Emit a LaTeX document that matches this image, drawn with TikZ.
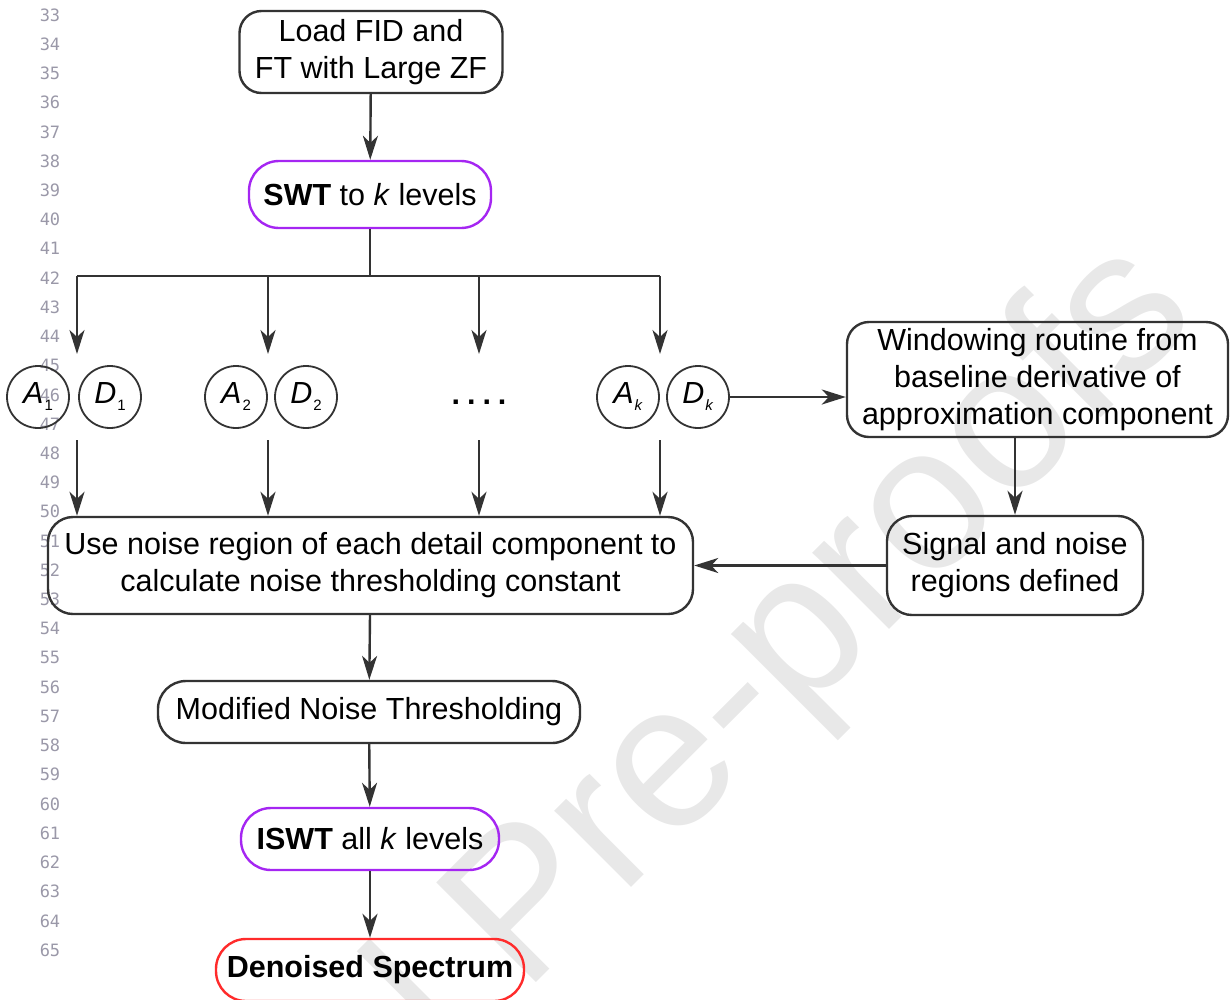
\documentclass[tikz,border=0pt]{standalone}
\usepackage{fontspec}
\setmainfont{Liberation Sans}
\newfontfamily\linenofont{DejaVu Sans Mono}
\usepackage{tikz}
\usetikzlibrary{arrows.meta,calc,positioning}
\definecolor{boxline}{HTML}{333333}
\definecolor{swtpurple}{HTML}{A526F2}
\definecolor{outred}{HTML}{FF2B2B}
\definecolor{linenogray}{HTML}{9A98A8}
\newcommand\flowfont{\fontsize{30.5}{37}\selectfont}
\newcommand\comp[2]{\textit{#1}\kern1pt\raisebox{-7pt}{\fontsize{15}{15}\selectfont #2}}

\begin{document}
\begin{tikzpicture}[x=1pt,y=-1pt,
    procbox/.style={draw=boxline, line width=2.4pt, rounded corners=22pt, align=center, inner sep=0pt, font=\flowfont},
    keybox/.style={procbox, draw=swtpurple, rounded corners=30pt},
    endbox/.style={procbox, draw=outred, rounded corners=30pt},
    circnode/.style={circle, draw=boxline, line width=1.8pt, minimum size=62pt, inner sep=0pt, font=\flowfont},
    arr/.style={draw=boxline, line width=2.4pt, -{Stealth[length=24pt,width=15pt,inset=7pt]}},
    lineno/.style={font=\linenofont\fontsize{17}{17}\selectfont, text=linenogray},
    wmark/.style={font=\fontsize{205}{205}\selectfont, text=black!9}]
    \useasboundingbox (0,0) rectangle (1231,999);
    \clip (0,0) rectangle (1231,999);
    % watermark and line numbers
    \node [wmark, rotate=45] (wm) at (568,876) {Journal Pre-proofs};
    \foreach \n in {33,...,65}
        \node [lineno] (ln\n) at (50,{15+(\n-33)*29.22}) {\n};

    % main column
    \node [procbox, minimum width=263pt, minimum height=82pt] (load) at (371,52) {Load FID and\\FT with Large ZF};
    \node [keybox, minimum width=242pt, minimum height=67pt] (swt) at (370,194.5) {\textbf{SWT} to \textit{k} levels};

    % components
    \node [circnode] (a1) at (38,397) {\comp{A}{1}};
    \node [circnode] (d1) at (110,397) {\comp{D}{1}};
    \node [circnode] (a2) at (236,397) {\comp{A}{2}};
    \node [circnode] (d2) at (306,397) {\comp{D}{2}};
    \node [font=\flowfont\bfseries] (dots) at (479,402) {.\hspace{7pt}.\hspace{7pt}.\hspace{7pt}.};
    \node [circnode] (ak) at (628,397) {\comp{A}{\textit{k}}};
    \node [circnode] (dk) at (698,397) {\comp{D}{\textit{k}}};

    \node [procbox, minimum width=381pt, minimum height=115pt] (window) at (1037.5,379.5) {Windowing routine from\\baseline derivative of\\approximation component};
    \node [procbox, minimum width=645pt, minimum height=97pt, rounded corners=25pt] (noisereg) at (370.5,565.5) {Use noise region of each detail component to\\calculate noise thresholding constant};
    \node [procbox, minimum width=256pt, minimum height=99pt, rounded corners=25pt] (signal) at (1015,565.5) {Signal and noise\\regions defined};
    \node [procbox, minimum width=422pt, minimum height=62pt, rounded corners=28pt] (modthr) at (369,712) {Modified Noise Thresholding};
    \node [keybox, minimum width=258pt, minimum height=62pt] (iswt) at (370,839) {\textbf{ISWT} all \textit{k} levels};
    \node [endbox, minimum width=308pt, minimum height=62pt] (denoised) at (370,970) {\textbf{Denoised Spectrum}};

    % branches
    \coordinate (bus) at (swt.south |- 0,276);
    \draw [boxline, line width=2.4pt] (swt.south) -- (bus);
    \draw [boxline, line width=2.4pt] (77,276) -- (660,276);
    \foreach \bx/\nm in {77/b1,268/b2,479/b3,660/bk} {
        \coordinate (\nm top) at (\bx,276);
        \coordinate (\nm mid) at (\bx,354);
        \coordinate (\nm low) at (\bx,440);
        \draw [arr] (\nm top) -- (\nm mid);
        \draw [arr] (\nm low) -- (\nm low |- noisereg.north);
    }

    \draw [arr] (load) -- (swt);
    \draw [arr] (dk.east) -- (dk.east -| window.west);
    \draw [arr] (signal.north |- window.south) -- (signal.north);
    \draw [arr] (signal.west) -- (noisereg.east);
    \draw [arr] (noisereg) -- (modthr);
    \draw [arr] (modthr) -- (iswt);
    \draw [arr] (iswt) -- (denoised);
\end{tikzpicture}
\end{document}
